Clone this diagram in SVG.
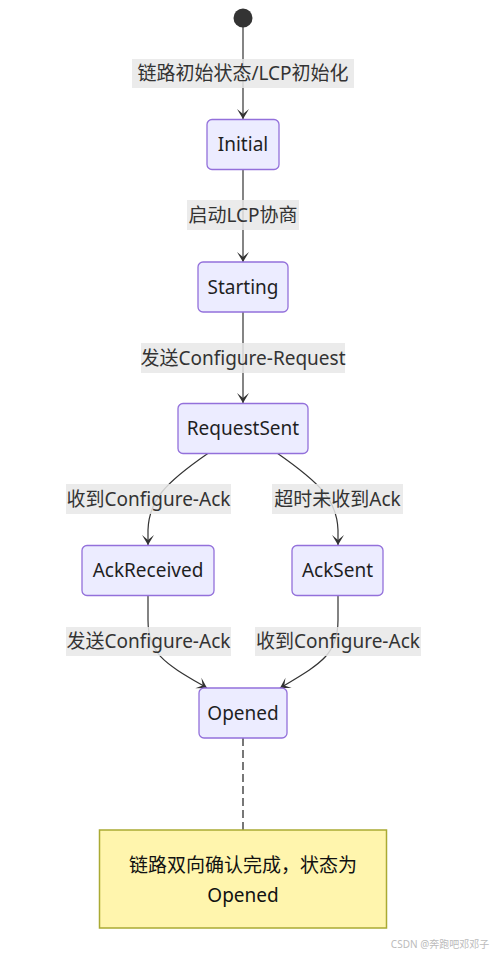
<svg xmlns="http://www.w3.org/2000/svg" width="493" height="956" viewBox="0 0 493 956">
<style>
text{font-family:"Noto Sans","Noto Sans CJK SC",sans-serif;font-size:19px;text-anchor:middle}
.node rect{fill:#ECECFF;stroke:#9370DB;stroke-width:1.3}
.node text{fill:#1f1f1f}
.edge{fill:none;stroke:#333;stroke-width:1.2;marker-end:url(#barb)}
.lbl rect{fill:#e8e8e8;fill-opacity:0.85}
.lbl text{fill:#333}
.note rect{fill:#fff5ad;stroke:#aaaa33;stroke-width:1.5}
.note text{fill:#111}
</style>
<defs>
<marker id="barb" viewBox="0 0 20 14" refX="19" refY="7" markerWidth="20" markerHeight="14" markerUnits="userSpaceOnUse" orient="auto">
<path d="M19,7 L9,13 L14,7 L9,1 Z" fill="#333"/>
</marker>
</defs>
<rect width="493" height="956" fill="#fff"/>
<g id="connectors">
<path class="edge" d="M243,27 L243,119"/>
<path class="edge" d="M243,169 L243,262"/>
<path class="edge" d="M243,312 L243,403"/>
<path class="edge" d="M208.5,453 C165,483 149,500 148,530 L148,545"/>
<path class="edge" d="M277,453 C320,483 337,500 338,530 L338,545"/>
<path class="edge" d="M148,595 L148,620 C148,655 166,664 207,688"/>
<path class="edge" d="M338,595 L338,620 C338,655 320,664 280,688"/>
<path d="M243,738 L243,830" fill="none" stroke="#777" stroke-width="2" stroke-dasharray="8,4"/>
</g>
<g id="edge-labels">
<g class="lbl"><rect x="132" y="59" width="222" height="29"/><text x="243" y="80">链路初始状态/LCP初始化</text></g>
<g class="lbl"><rect x="187" y="200" width="112" height="30"/><text x="243" y="221.5">启动LCP协商</text></g>
<g class="lbl"><rect x="141" y="343" width="204" height="30"/><text x="243" y="364.5">发送Configure-Request</text></g>
<g class="lbl"><rect x="66" y="484" width="165" height="30"/><text x="148.5" y="505.5">收到Configure-Ack</text></g>
<g class="lbl"><rect x="272" y="484" width="131" height="30"/><text x="337.5" y="505.5">超时未收到Ack</text></g>
<g class="lbl"><rect x="66" y="627" width="165" height="29"/><text x="148.5" y="648">发送Configure-Ack</text></g>
<g class="lbl"><rect x="255" y="627" width="166" height="29"/><text x="338" y="648">收到Configure-Ack</text></g>
</g>
<g id="start"><circle cx="243" cy="18" r="9.5" fill="#333"/></g>
<g id="Initial" class="node"><rect x="207" y="119.5" width="72" height="50" rx="5"/><text x="243" y="151">Initial</text></g>
<g id="Starting" class="node"><rect x="198" y="262" width="90" height="50" rx="5"/><text x="243" y="293.5">Starting</text></g>
<g id="RequestSent" class="node"><rect x="178" y="403.5" width="130" height="50" rx="5"/><text x="243" y="435">RequestSent</text></g>
<g id="AckReceived" class="node"><rect x="82" y="545.5" width="132" height="50" rx="5"/><text x="148" y="577">AckReceived</text></g>
<g id="AckSent" class="node"><rect x="292" y="545.5" width="91" height="50" rx="5"/><text x="337.5" y="577">AckSent</text></g>
<g id="Opened" class="node"><rect x="199" y="688" width="88" height="50" rx="5"/><text x="243" y="719.5">Opened</text></g>
<g id="note" class="note"><rect x="99.5" y="830" width="287" height="98"/><text x="243" y="871.5">链路双向确认完成，状态为</text><text x="243" y="901.5">Opened</text></g>
<text x="440" y="948" style="font-size:10px;fill:#bbb">CSDN @奔跑吧邓邓子</text>
</svg>
